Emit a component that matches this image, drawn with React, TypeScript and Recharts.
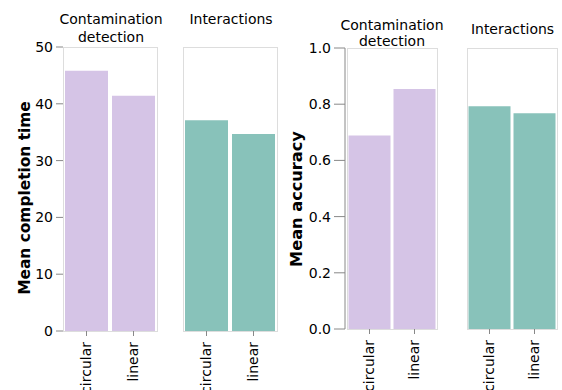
import React from 'react';
import { BarChart, Bar, XAxis, YAxis } from 'recharts';

const layouts = ['circular', 'linear'];
const tasks = ['Contamination detection', 'Interactions'];
const completionContamination = [45.8, 41.4];
const completionInteractions = [37.1, 34.7];
const accuracyContamination = [0.689, 0.854];
const accuracyInteractions = [0.793, 0.768];
const completionTicks = [0, 10, 20, 30, 40, 50];
const accuracyTicks = [0, 0.2, 0.4, 0.6, 0.8, 1.0];
const purple = '#d5c4e6';
const teal = '#88c2ba';

const FONT = '"DejaVu Sans", Verdana, sans-serif';
const TOP_PAD = 12;
const BOTTOM_PAD = 70;

type YCfg = { width: number; tickSize: number; tickMargin: number; line: boolean; fmt: (v: number) => string; ticks: number[] };

function XTick(props: any) {
  const { x, y, payload } = props;
  return (
    <text
      x={x}
      y={y}
      dy="0.3em"
      transform={`rotate(-90, ${x}, ${y})`}
      textAnchor="end"
      fill="#000"
      fontSize={14}
      fontFamily={FONT}
    >
      {payload.value}
    </text>
  );
}

function Facet(props: {
  x: number; y: number; w: number; h: number; padLeft: number;
  values: number[]; color: string; domain: [number, number]; yCfg: YCfg | null; ticks: number[]; gap: number;
}) {
  const { x, y, w, h, padLeft, values, color, domain, yCfg, ticks, gap } = props;
  const data = layouts.map((l, i) => ({ layout: l, value: values[i] }));
  const yw = yCfg ? yCfg.width : 0;
  const left = x - yw;
  const top = y - TOP_PAD;
  return (
    <>
      <div
        style={{
          position: 'absolute',
          left: x + padLeft,
          top: y,
          width: w - padLeft + 1,
          height: h + 1,
          boxSizing: 'border-box',
          border: '1px solid #dddddd',
        }}
      />
      <div style={{ position: 'absolute', left, top }}>
        <BarChart
          width={yw + w}
          height={TOP_PAD + h + BOTTOM_PAD}
          data={data}
          margin={{ top: TOP_PAD, right: 0, bottom: 0, left: 0 }}
          barCategoryGap={gap}
        >
          <XAxis
            dataKey="layout"
            height={BOTTOM_PAD}
            axisLine={false}
            tickSize={5}
            tickMargin={6}
            tickLine={{ stroke: '#888888' }}
            tick={<XTick />}
            interval={0}
            padding={{ left: padLeft, right: 0 }}
          />
          {yCfg ? (
            <YAxis
              width={yCfg.width}
              domain={domain}
              ticks={ticks}
              interval={0}
              tickSize={yCfg.tickSize}
              tickMargin={yCfg.tickMargin}
              axisLine={yCfg.line ? { stroke: '#888888' } : false}
              tickLine={{ stroke: '#888888' }}
              tickFormatter={yCfg.fmt}
              tick={{ fill: '#000', fontSize: 14, fontFamily: FONT }}
            />
          ) : (
            <YAxis hide domain={domain} ticks={ticks} />
          )}
          <Bar dataKey="value" fill={color} isAnimationActive={false} />
        </BarChart>
      </div>
    </>
  );
}

export default function App() {
  const leftY: YCfg = { width: 63, tickSize: 7, tickMargin: 3, line: false, fmt: (v) => String(v), ticks: completionTicks };
  const rightY: YCfg = { width: 60, tickSize: 11, tickMargin: 3, line: true, fmt: (v) => v.toFixed(1), ticks: accuracyTicks };
  return (
    <div style={{ position: 'absolute', left: 0, top: 0, width: 562, height: 390, background: '#fff', overflow: 'hidden' }}>
      <Facet x={63} y={47} w={94} h={284} padLeft={0} values={completionContamination} color={purple}
        domain={[0, 50]} yCfg={leftY} ticks={completionTicks} gap={2} />
      <Facet x={183} y={47} w={94} h={284} padLeft={0} values={completionInteractions} color={teal}
        domain={[0, 50]} yCfg={null} ticks={completionTicks} gap={2} />
      <Facet x={345} y={48} w={92} h={281} padLeft={2} values={accuracyContamination} color={purple}
        domain={[0, 1]} yCfg={rightY} ticks={accuracyTicks} gap={1.5} />
      <Facet x={467} y={48} w={90} h={281} padLeft={0} values={accuracyInteractions} color={teal}
        domain={[0, 1]} yCfg={null} ticks={accuracyTicks} gap={1.5} />
      <svg width={562} height={390} style={{ position: 'absolute', left: 0, top: 0, pointerEvents: 'none' }}>
        <g fontFamily={FONT} fontSize={14} fill="#000" textAnchor="middle">
          <text x={111} y={23.5}>{tasks[0].split(' ')[0]}</text>
          <text x={111} y={42}>{tasks[0].split(' ')[1]}</text>
          <text x={231} y={24}>{tasks[1]}</text>
          <text x={392} y={29.5}>{tasks[0].split(' ')[0]}</text>
          <text x={392} y={45.5}>{tasks[0].split(' ')[1]}</text>
          <text x={512.5} y={33.5}>{tasks[1]}</text>
        </g>
        <g fontFamily={FONT} fontWeight="bold" fill="#000" textAnchor="middle">
          <text x={30} y={198} fontSize={15.4} transform="rotate(-90, 30, 198)">Mean completion time</text>
          <text x={302} y={199} fontSize={16.2} transform="rotate(-90, 302, 199)">Mean accuracy</text>
        </g>
      </svg>
    </div>
  );
}
